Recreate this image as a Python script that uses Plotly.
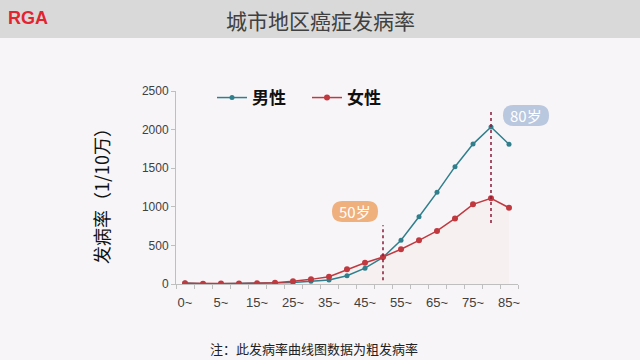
import plotly.graph_objects as go

# ---- data ----
age_groups = ["0~", "1~", "5~", "10~", "15~", "20~", "25~", "30~", "35~", "40~",
              "45~", "50~", "55~", "60~", "65~", "70~", "75~", "80~", "85~"]
male_rate = [12, 3, 4, 6, 8, 12, 20, 35, 52, 108, 205, 345, 566, 872, 1187, 1520, 1812, 2034, 1810]
female_rate = [10, 4, 5, 6, 9, 17, 35, 60, 95, 190, 276, 350, 450, 566, 687, 850, 1032, 1110, 988]
tick_labels = [g if i % 2 == 0 else "" for i, g in enumerate(age_groups)]
y_ticks = [0, 500, 1000, 1500, 2000, 2500]
marked_ages = ["50~", "80~"]
marked_text = ["50岁", "80岁"]

FONT = "Noto Sans CJK SC"
W, H = 640, 360
L, R, T, B = 176, 518, 91, 284   # plot area in pixels

def px(x):
    return (x - L) / (R - L)

def py(y):
    return (B - y) / (B - T)

def pill(x0, y0, x1, y1):
    r = (y1 - y0) / 2
    pts = []
    pts.append(f"M {px(x0 + r)} {py(y0)}")
    pts.append(f"L {px(x1 - r)} {py(y0)}")
    pts.append(f"Q {px(x1)} {py(y0)} {px(x1)} {py(y0 + r)}")
    pts.append(f"Q {px(x1)} {py(y1)} {px(x1 - r)} {py(y1)}")
    pts.append(f"L {px(x0 + r)} {py(y1)}")
    pts.append(f"Q {px(x0)} {py(y1)} {px(x0)} {py(y0 + r)}")
    pts.append(f"Q {px(x0)} {py(y0)} {px(x0 + r)} {py(y0)}")
    pts.append("Z")
    return " ".join(pts)

BG = "#F7F5F8"
MALE = "#2F7F8C"
FEMALE = "#C0393F"

fig = go.Figure()
fig.add_trace(go.Scatter(
    x=age_groups, y=female_rate, mode="lines", line=dict(width=0),
    fill="tozeroy", fillcolor="rgba(240,190,160,0.08)", showlegend=False, hoverinfo="skip"))
fig.add_trace(go.Scatter(
    x=age_groups, y=male_rate, name="男性", mode="lines+markers",
    line=dict(color=MALE, width=1.5), marker=dict(color=MALE, size=5)))
fig.add_trace(go.Scatter(
    x=age_groups, y=female_rate, name="女性", mode="lines+markers",
    line=dict(color=FEMALE, width=1.5), marker=dict(color=FEMALE, size=6)))

shapes = []
shapes.append(dict(type="rect", xref="paper", yref="paper",
                   x0=px(0), x1=px(W), y0=py(38), y1=py(0),
                   fillcolor="#D9D9D9", line=dict(width=0), layer="below"))
shapes.append(dict(type="line", xref="x", yref="y", x0=marked_ages[0], x1=marked_ages[0],
                   y0=50, y1=760, line=dict(color="#8B1A3A", width=1.5, dash="dot")))
shapes.append(dict(type="line", xref="x", yref="y", x0=marked_ages[1], x1=marked_ages[1],
                   y0=790, y1=2250, line=dict(color="#8B1A3A", width=1.5, dash="dot")))
shapes.append(dict(type="path", xref="paper", yref="paper", path=pill(332, 201, 378, 222),
                   fillcolor="#EFB07E", line=dict(width=0)))
shapes.append(dict(type="path", xref="paper", yref="paper", path=pill(503, 105, 549, 126),
                   fillcolor="#B9C7DF", line=dict(width=0)))

annotations = [
    dict(text="城市地区癌症发病率", x=px(320), y=py(20), xref="paper", yref="paper",
         showarrow=False, font=dict(family=FONT, size=21, color="#404040"),
         xanchor="center", yanchor="middle"),
    dict(text="<b>RGA</b>", x=px(6), y=py(18), xref="paper", yref="paper",
         showarrow=False, font=dict(family="Liberation Sans", size=18, color="#E3242F"),
         xanchor="left", yanchor="middle"),
    dict(text="发病率（1/10万）", x=px(101), y=py(192), xref="paper", yref="paper",
         showarrow=False, textangle=-90, font=dict(family=FONT, size=18, color="#111111"),
         xanchor="center", yanchor="middle"),
    dict(text=marked_text[0], x=px(355), y=py(211.5), xref="paper", yref="paper",
         showarrow=False, font=dict(family=FONT, size=15, color="#FFFFFF"),
         xanchor="center", yanchor="middle"),
    dict(text=marked_text[1], x=px(526), y=py(115.5), xref="paper", yref="paper",
         showarrow=False, font=dict(family=FONT, size=15, color="#FFFFFF"),
         xanchor="center", yanchor="middle"),
    dict(text="注：此发病率曲线图数据为粗发病率", x=px(314), y=py(348), xref="paper", yref="paper",
         showarrow=False, font=dict(family=FONT, size=13, color="#222222"),
         xanchor="center", yanchor="middle"),
]

fig.update_layout(
    width=W, height=H,
    margin=dict(l=L, r=W - R, t=T, b=H - B),
    paper_bgcolor=BG, plot_bgcolor=BG,
    font=dict(family=FONT, color="#595959"),
    shapes=shapes, annotations=annotations,
    showlegend=True,
    legend=dict(orientation="h", x=px(212), y=py(98), xanchor="left", yanchor="middle",
                bgcolor="rgba(0,0,0,0)",
                font=dict(family=FONT, size=17, color="#111111", weight="bold"),
                itemwidth=30, entrywidth=50, traceorder="normal"),
    xaxis=dict(type="category", categoryorder="array", categoryarray=age_groups,
               range=[-0.5, len(age_groups) - 0.5],
               tickvals=age_groups, ticktext=tick_labels, tickangle=0,
               showgrid=False, zeroline=False, showline=True, linecolor="#BFBFBF", linewidth=1,
               ticks="outside", tickson="boundaries", ticklen=4, tickcolor="#BFBFBF",
               tickfont=dict(family="Liberation Sans", size=13, color="#404040"),
               ticklabelstandoff=6),
    yaxis=dict(range=[0, 2500], tickvals=y_ticks, showgrid=False, zeroline=False,
               showline=True, linecolor="#BFBFBF", linewidth=1,
               ticks="outside", ticklen=4, tickcolor="#BFBFBF",
               tickfont=dict(family="Liberation Sans", size=12, color="#404040")),
)

fig.write_html("out.html", config={"displayModeBar": False},
               post_script="document.body.style.margin='0';document.body.style.background='" + BG + "';")
